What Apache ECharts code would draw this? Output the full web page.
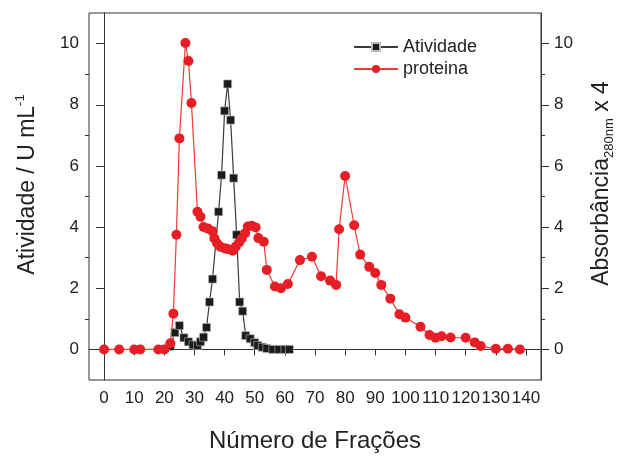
<!DOCTYPE html>
<html>
<head>
<meta charset="utf-8">
<script src="https://cdn.jsdelivr.net/npm/echarts@6/dist/echarts.min.js"></script>
<style>
html,body{margin:0;padding:0;background:#fff;}
#chart{width:624px;height:460px;}
</style>
</head>
<body>
<div id="chart"></div>
<script>
var xTicks = [0,10,20,30,40,50,60,70,80,90,100,110,120,130,140];
var yTicks = [0,2,4,6,8,10];
var yMinorTicks = [1,3,5,7,9];

var atividadeX = [22,23.5,25,26.5,28,29.5,31,32,33,34,35,36,38,39,40,41,42,43,44,45,46,47,48.5,50,51,52.5,54,56,58,60,61.5];
var atividadeY = [0.1,0.55,0.78,0.38,0.25,0.15,0.13,0.25,0.4,0.72,1.55,2.3,4.5,5.7,7.8,8.68,7.5,5.6,3.75,1.55,1.25,0.45,0.35,0.22,0.13,0.07,0.03,0,0,0,0];

var proteinaX = [0,5,10,12,18,20,22,23,24,25,27,28,29,31,32,33,34.5,36,36.6,37.5,38.6,40,41,42.7,43.7,44.8,45.7,46.8,47.7,49,50.3,51.2,53,54,56.7,58.7,61,65,69,72,75,77,78,80,83,85,88,90,92,95,98,100,105,108,110,112,115,120,123,125,130,134,138];
var proteinaY = [0,0,0,0,0,0,0.2,1.17,3.75,6.9,10.02,9.43,8.06,4.5,4.34,4.0,3.95,3.86,3.63,3.47,3.36,3.31,3.28,3.23,3.36,3.5,3.63,3.8,4.02,4.04,3.99,3.64,3.52,2.6,2.06,2.0,2.14,2.92,3.03,2.39,2.25,2.11,3.93,5.67,4.06,3.1,2.7,2.5,2.11,1.66,1.15,1.04,0.74,0.47,0.38,0.43,0.39,0.38,0.23,0.11,0.02,0.02,0];

function pairs(xs, ys){ return xs.map(function(x,i){ return [x, ys[i]]; }); }

var FONT = '"Liberation Sans", Arial, sans-serif';
var AX = '#333';

var chart = echarts.init(document.getElementById('chart'), null, {renderer:'canvas'});
function yAxisMajor(pos, nameRich, nameFmt, pad){
  return {
    type:'value', position:pos, min:-1, max:11,
    name: nameFmt, nameLocation:'middle', nameRotate:90, nameGap:47,
    nameTextStyle:{fontFamily:FONT, fontSize:23, color:'#222', rich:nameRich, padding:[0,0,0,pad]},
    axisLine:{show:true, lineStyle:{color:AX, width:1}},
    axisTick:{show:true, inside:false, length:8, customValues:yTicks, lineStyle:{color:AX}},
    axisLabel:{show:true, customValues:yTicks, fontFamily:FONT, fontSize:17, color:'#222', margin:pos==='left'?10:13},
    splitLine:{show:false}
  };
}
function yAxisMinor(pos){
  return {
    type:'value', position:pos, min:-1, max:11,
    axisLine:{show:false},
    axisTick:{show:true, inside:false, length:4, customValues:yMinorTicks, lineStyle:{color:AX}},
    axisLabel:{show:false},
    splitLine:{show:false}
  };
}

var option = {
  backgroundColor:'#fff',
  animation:false,
  grid:{left:89, right:77, top:13, bottom:80, show:true, borderColor:AX, borderWidth:1, backgroundColor:'transparent'},
  legend:{
    orient:'vertical', left:348, top:33, itemGap:4, itemWidth:44, itemHeight:10,
    textStyle:{fontFamily:FONT, fontSize:18, color:'#222'},
    data:['Atividade','proteina']
  },
  xAxis:{
    type:'value', min:-5, max:145,
    name:'Número de Frações', nameLocation:'middle', nameGap:49,
    nameTextStyle:{fontFamily:FONT, fontSize:24, color:'#222'},
    axisLine:{show:true, lineStyle:{color:AX, width:1}},
    axisTick:{show:true, inside:false, length:6, customValues:xTicks, lineStyle:{color:AX}},
    axisLabel:{show:true, customValues:xTicks, fontFamily:FONT, fontSize:17, color:'#222', margin:10},
    splitLine:{show:false}
  },
  yAxis:[
    yAxisMajor('left', {sup:{fontSize:13, verticalAlign:'top', lineHeight:28, fontFamily:FONT, color:'#222'}, m:{fontSize:23, lineHeight:28, fontFamily:FONT, color:'#222'}}, '{m|Atividade / U mL}{sup|-1}', 24),
    yAxisMinor('left'),
    yAxisMajor('right', {sub:{fontSize:13, verticalAlign:'bottom', lineHeight:28, fontFamily:FONT, color:'#222'}, m:{fontSize:23, lineHeight:28, fontFamily:FONT, color:'#222'}}, '{m|Absorbância}{sub|280nm}{m| x 4}', 26),
    yAxisMinor('right')
  ],
  series:[
    {
      name:'Atividade', type:'line', xAxisIndex:0, yAxisIndex:0,
      data:pairs(atividadeX, atividadeY),
      symbol:'rect', symbolSize:8, showSymbol:true,
      lineStyle:{color:'#3a3a3a', width:1.2},
      itemStyle:{color:'#1b1b1b', borderColor:'#bbb', borderWidth:0.6},
      z:2
    },
    {
      name:'proteina', type:'line', xAxisIndex:0, yAxisIndex:2,
      data:pairs(proteinaX, proteinaY),
      symbol:'circle', symbolSize:10, showSymbol:true,
      lineStyle:{color:'#ee3b36', width:1.2},
      itemStyle:{color:'#e61e25', borderColor:'#e61e25', borderWidth:0},
      z:3
    }
  ]
};
chart.setOption(option);
</script>
</body>
</html>
